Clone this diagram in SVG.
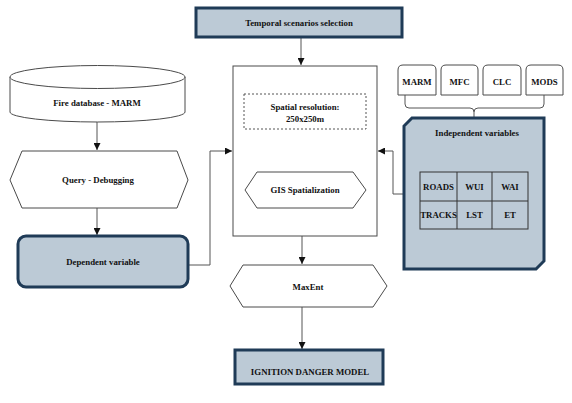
<svg xmlns="http://www.w3.org/2000/svg" width="572" height="403" viewBox="0 0 572 403">
<defs>
<style>
.w{fill:#fff;stroke:#4a4a4a;stroke-width:1}
.b{fill:#bccad6;stroke:#1f3b57;stroke-width:3}
.d{fill:#fff;stroke:#555;stroke-width:1;stroke-dasharray:2,2}
.t{font-family:"Liberation Serif","Times New Roman",serif;font-weight:bold;font-size:8.8px;fill:#111;text-anchor:middle}
.c{fill:none;stroke:#555;stroke-width:1}
.g{fill:none;stroke:#333;stroke-width:1}
</style>
<marker id="ah" viewBox="0 0 8 8" refX="8" refY="4" markerWidth="7" markerHeight="7" markerUnits="userSpaceOnUse" orient="auto">
<path d="M0,0 L8,4 L0,8 Z" fill="#111"/>
</marker>
</defs>
<rect width="572" height="403" fill="#fff"/>
<g id="connectors">
<path class="c" d="M301,37 V65" marker-end="url(#ah)"/>
<path class="c" d="M97,122 V150" marker-end="url(#ah)"/>
<path class="c" d="M97,208 V235" marker-end="url(#ah)"/>
<path class="c" d="M188,265 H210 V151 H232" marker-end="url(#ah)"/>
<path class="c" d="M404,194 H393 V151 H378" marker-end="url(#ah)"/>
<path class="c" d="M302,129 V171" marker-end="url(#ah)"/>
<path class="c" d="M302,236 V264" marker-end="url(#ah)"/>
<path class="c" d="M302,307 V349" marker-end="url(#ah)"/>
<path class="c" d="M405,95 V104 Q405,108 409,108 H470 Q474,108 474,112 V118 M474,112 Q474,108 478,108 H540 Q544,108 544,104 V95"/>
</g>
<g id="temporal">
<rect class="b" x="196" y="8" width="206" height="29"/>
<text class="t" x="299" y="26">Temporal scenarios selection</text>
</g>
<g id="fire-database">
<path class="w" d="M10,77 V112 A87.5,10 0 0 0 185,112 V77"/>
<ellipse class="w" cx="97.5" cy="77" rx="87.5" ry="11.5"/>
<text class="t" x="97" y="106">Fire database - MARM</text>
</g>
<g id="query">
<polygon class="w" points="22,151 177,151 188,180 177,208 22,208 10,180"/>
<text class="t" x="98" y="183">Query - Debugging</text>
</g>
<g id="dependent">
<rect class="b" x="18" y="236" width="170" height="51" rx="8"/>
<text class="t" x="103" y="265">Dependent variable</text>
</g>
<g id="main">
<rect class="w" x="233" y="66" width="144" height="170"/>
</g>
<g id="spatial-resolution">
<rect class="d" x="244" y="94" width="122" height="35"/>
<text class="t" x="305" y="110">Spatial resolution:</text>
<text class="t" x="305" y="122">250x250m</text>
</g>
<g id="gis">
<polygon class="w" points="257,172 353,172 366,190 353,208 257,208 245,190"/>
<text class="t" x="305" y="193">GIS Spatialization</text>
</g>
<g id="maxent">
<polygon class="w" points="243,265 373,265 387,286 373,307 243,307 230,286"/>
<text class="t" x="308" y="290">MaxEnt</text>
</g>
<g id="ignition">
<rect class="b" x="235" y="350" width="148" height="34"/>
<text class="t" x="310" y="375">IGNITION DANGER MODEL</text>
</g>
<g id="source-marm">
<path class="w" d="M398,95 V70 Q398,65 403,65 H431 Q436,65 436,70 V95 Z"/>
<text class="t" x="417" y="85">MARM</text>
</g>
<g id="source-mfc">
<path class="w" d="M441,95 V70 Q441,65 446,65 H473 Q478,65 478,70 V95 Z"/>
<text class="t" x="459.5" y="85">MFC</text>
</g>
<g id="source-clc">
<path class="w" d="M483,95 V70 Q483,65 488,65 H516 Q521,65 521,70 V95 Z"/>
<text class="t" x="502" y="85">CLC</text>
</g>
<g id="source-mods">
<path class="w" d="M526,95 V70 Q526,65 531,65 H558 Q563,65 563,70 V95 Z"/>
<text class="t" x="544.5" y="85">MODS</text>
</g>
<g id="independent">
<polygon class="b" points="412,118 544,118 544,261 536,269 404,269 404,126"/>
<text class="t" x="477" y="136">Independent variables</text>
<rect class="g" x="420" y="172" width="108" height="57"/>
<path class="g" d="M420,201 H528 M457,172 V229 M492,172 V229"/>
<text class="t" x="438.5" y="190">ROADS</text>
<text class="t" x="474.5" y="190">WUI</text>
<text class="t" x="510" y="190">WAI</text>
<text class="t" x="438.5" y="218">TRACKS</text>
<text class="t" x="474.5" y="218">LST</text>
<text class="t" x="510" y="218">ET</text>
</g>
</svg>
